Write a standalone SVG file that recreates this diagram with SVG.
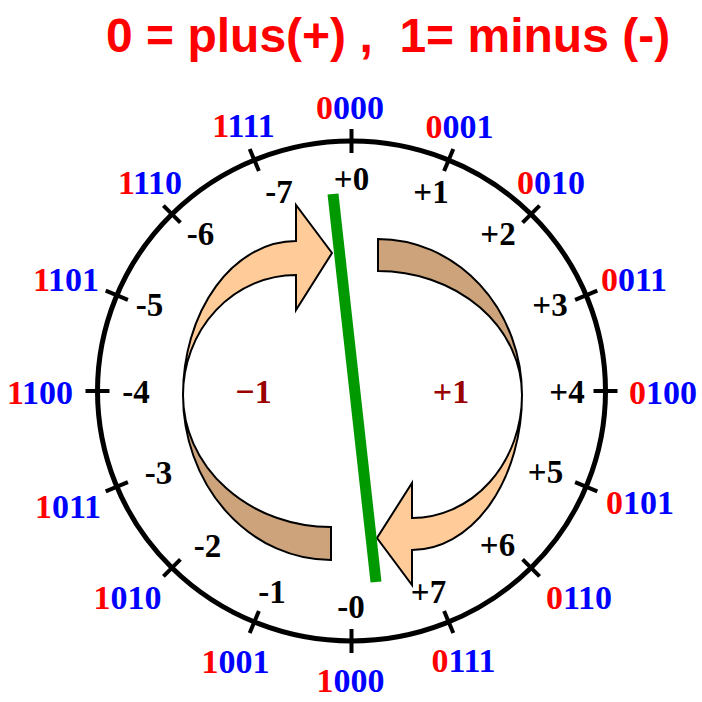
<svg xmlns="http://www.w3.org/2000/svg" width="702" height="702" viewBox="0 0 702 702">
<style>
.bin{font-family:"Liberation Serif","Times New Roman",serif;font-weight:bold;font-size:34px;text-anchor:middle;fill:#0000FF}
.bin .s{fill:#FF0000}
.val{font-family:"Liberation Serif","Times New Roman",serif;font-weight:bold;font-size:33px;text-anchor:middle;fill:#000}
.inner{font-family:"Liberation Serif","Times New Roman",serif;font-weight:bold;font-size:34px;text-anchor:middle;fill:#990000}
.tick{stroke:#000;stroke-width:4}
.front{fill:#FFCC99;stroke:#000;stroke-width:2;stroke-linejoin:miter}
.back{fill:#CCA37A;stroke:#000;stroke-width:2;stroke-linejoin:miter}
</style>
<rect width="702" height="702" fill="#fff"/>
<text x="106" y="52" style="white-space:pre" font-family="'Liberation Sans',Arial,sans-serif" font-weight="bold" font-size="48" fill="#FF0000">0 = plus(+) ,  1= minus (-)</text>
<g id="ring">
<ellipse cx="351.5" cy="391" rx="254" ry="250" fill="none" stroke="#000" stroke-width="5"/>
<g id="ticks">
<line class="tick" x1="351.5" y1="129" x2="351.5" y2="153"/>
<line class="tick" x1="453.3" y1="148.9" x2="444.1" y2="171.1"/>
<line class="tick" x1="539.6" y1="205.7" x2="522.6" y2="222.7"/>
<line class="tick" x1="597.3" y1="290.7" x2="575.1" y2="299.9"/>
<line class="tick" x1="617.5" y1="391" x2="593.5" y2="391"/>
<line class="tick" x1="597.3" y1="491.3" x2="575.1" y2="482.1"/>
<line class="tick" x1="539.6" y1="576.3" x2="522.6" y2="559.3"/>
<line class="tick" x1="453.3" y1="633.1" x2="444.1" y2="610.9"/>
<line class="tick" x1="351.5" y1="653" x2="351.5" y2="629"/>
<line class="tick" x1="249.7" y1="633.1" x2="258.9" y2="610.9"/>
<line class="tick" x1="163.4" y1="576.3" x2="180.4" y2="559.3"/>
<line class="tick" x1="105.7" y1="491.3" x2="127.9" y2="482.1"/>
<line class="tick" x1="85.5" y1="391" x2="109.5" y2="391"/>
<line class="tick" x1="105.7" y1="290.7" x2="127.9" y2="299.9"/>
<line class="tick" x1="163.4" y1="205.7" x2="180.4" y2="222.7"/>
<line class="tick" x1="249.7" y1="148.9" x2="258.9" y2="171.1"/>
</g>
</g>
<g id="binary-labels">
<text class="bin" x="350" y="119"><tspan class="s">0</tspan>000</text>
<text class="bin" x="459.5" y="138"><tspan class="s">0</tspan>001</text>
<text class="bin" x="551" y="194"><tspan class="s">0</tspan>010</text>
<text class="bin" x="634" y="291"><tspan class="s">0</tspan>011</text>
<text class="bin" x="663" y="404"><tspan class="s">0</tspan>100</text>
<text class="bin" x="640" y="514"><tspan class="s">0</tspan>101</text>
<text class="bin" x="579" y="609"><tspan class="s">0</tspan>110</text>
<text class="bin" x="463.5" y="672"><tspan class="s">0</tspan>111</text>
<text class="bin" x="350.5" y="692"><tspan class="s">1</tspan>000</text>
<text class="bin" x="235.5" y="673"><tspan class="s">1</tspan>001</text>
<text class="bin" x="127.5" y="609"><tspan class="s">1</tspan>010</text>
<text class="bin" x="68" y="518"><tspan class="s">1</tspan>011</text>
<text class="bin" x="40" y="404"><tspan class="s">1</tspan>100</text>
<text class="bin" x="66" y="291"><tspan class="s">1</tspan>101</text>
<text class="bin" x="150" y="194"><tspan class="s">1</tspan>110</text>
<text class="bin" x="243.5" y="137"><tspan class="s">1</tspan>111</text>
</g>
<g id="value-labels">
<text class="val" x="351.5" y="190">+0</text>
<text class="val" x="431" y="203">+1</text>
<text class="val" x="498" y="245">+2</text>
<text class="val" x="550" y="316">+3</text>
<text class="val" x="567" y="403">+4</text>
<text class="val" x="545.5" y="483">+5</text>
<text class="val" x="497.5" y="556">+6</text>
<text class="val" x="428.5" y="603">+7</text>
<text class="val" x="351" y="618">-0</text>
<text class="val" x="272" y="603">-1</text>
<text class="val" x="207.5" y="557">-2</text>
<text class="val" x="158.5" y="484">-3</text>
<text class="val" x="136" y="403">-4</text>
<text class="val" x="149.5" y="316">-5</text>
<text class="val" x="200.5" y="245">-6</text>
<text class="val" x="279" y="203">-7</text>
</g>
<g id="arrow-left">
<path class="back" d="M 183,395 A 148,165 0 0 0 331,560 L 331,527 A 148,132 0 0 1 183,395 Z"/>
<path class="front" d="M 183,395 A 113,154 0 0 1 296,241 L 296,205 L 332,253 L 296,310 L 296,275 A 113,120 0 0 0 183,395 Z"/>
</g>
<g id="arrow-right">
<path class="back" d="M 378,239 A 144,156 0 0 1 522,395 A 144,124 0 0 0 378,271 Z"/>
<path class="front" d="M 522,395 A 110,155 0 0 1 412,550 L 412,585 L 377,538 L 412,483 L 412,518 A 110,123 0 0 0 522,395 Z"/>
</g>
<g id="inner-labels">
<text class="inner" x="253.5" y="403">−1</text>
<text class="inner" x="451" y="403">+1</text>
</g>
<g id="connectors">
<line x1="333" y1="194" x2="376" y2="582" stroke="#009900" stroke-width="11"/>
</g>
</svg>
